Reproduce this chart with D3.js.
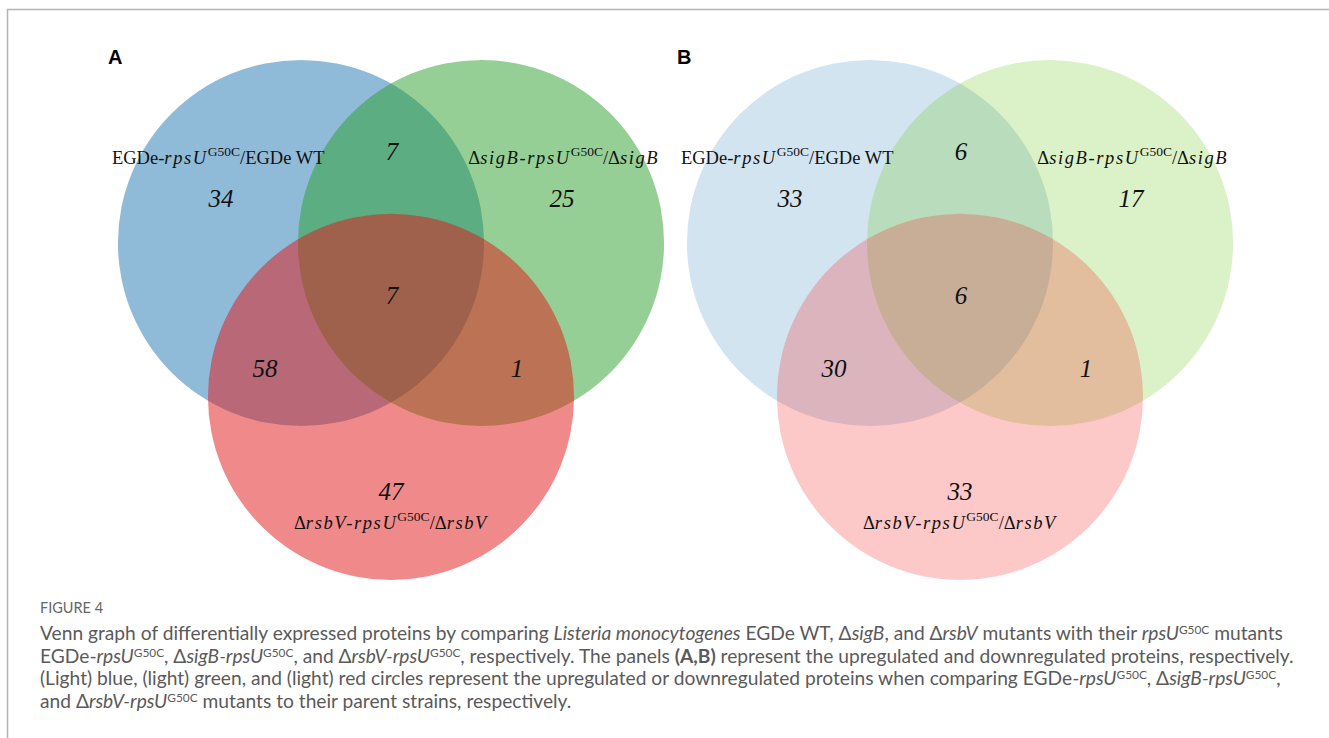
<!DOCTYPE html>
<html>
<head>
<meta charset="utf-8">
<script src="https://cdn.jsdelivr.net/npm/d3@7"></script>
<style>
  html, body { margin: 0; padding: 0; background: #fff; }
  svg { display: block; }
</style>
</head>
<body>
<svg id="fig" width="1329" height="738"></svg>
<script>
// ---- data ----
const panels = ["A", "B"];
// region order: onlyBlue, blue&green, onlyGreen, all three, blue&red, green&red, onlyRed
const regionKeys = ["100", "110", "010", "111", "101", "011", "001"];
const countsA = [34, 7, 25, 7, 58, 1, 47];
const countsB = [33, 6, 17, 6, 30, 1, 33];
// set labels: segments of [text, style]  (n = normal, i = italic, s = superscript)
const setLabels = [
  [["EGDe-", "n"], ["rpsU", "i"], ["G50C", "s"], ["/EGDe WT", "n"]],
  [["Δ", "n"], ["sigB-rpsU", "i"], ["G50C", "s"], ["/Δ", "n"], ["sigB", "i"]],
  [["Δ", "n"], ["rsbV-rpsU", "i"], ["G50C", "s"], ["/Δ", "n"], ["rsbV", "i"]]
];
const colorsA = ["rgb(31,119,180)", "rgb(44,160,44)", "rgb(225,21,21)"];
const colorsB = ["rgb(75,147,195)", "rgb(112,198,30)", "rgb(247,35,35)"];

// ---- layout (unit = distance between the two upper circle centres) ----
const circleUnits = [{x: 0, y: 0}, {x: 1, y: 0}, {x: 0.5, y: 0.855}];
const radiusUnit = 1.017;
const regionPos = {
  "100": [-0.445, -0.25], "110": [0.505, -0.51], "010": [1.45, -0.25],
  "111": [0.505, 0.29], "101": [-0.2, 0.695], "011": [1.2, 0.695], "001": [0.5, 1.378]
};
const labelPos = [[-0.46, -0.478], [1.46, -0.478], [0.5, 1.55]];

const svg = d3.select("#fig");
const unitPx = 180;

// frame
svg.append("path")
  .attr("d", "M7.5,738 L7.5,9.5 L1329,9.5")
  .attr("fill", "none").attr("stroke", "#b4b4b4").attr("stroke-width", 1.5);

function drawPanel(i, counts, colors, alpha, originX) {
  const x = d3.scaleLinear().domain([0, 1]).range([originX, originX + unitPx]);
  const y = d3.scaleLinear().domain([0, 1]).range([243, 243 + unitPx]);
  const g = svg.append("g");

  g.selectAll("circle").data(circleUnits).join("circle")
    .attr("cx", d => x(d.x)).attr("cy", d => y(d.y))
    .attr("r", x(radiusUnit) - x(0))
    .attr("fill", (d, k) => colors[k]).attr("fill-opacity", alpha);

  // counts
  g.selectAll("text.count").data(regionKeys.map((k, j) => ({k, v: counts[j]}))).join("text")
    .attr("class", "count")
    .attr("x", d => x(regionPos[d.k][0]))
    .attr("y", d => y(regionPos[d.k][1]) + 9)
    .attr("text-anchor", "middle")
    .attr("font-family", "'Liberation Serif', 'Times New Roman', serif")
    .attr("font-style", "italic")
    .attr("font-size", 25)
    .attr("fill", "#111")
    .text(d => d.v);

  // set labels
  setLabels.forEach((segs, k) => {
    const t = g.append("text")
      .attr("x", x(labelPos[k][0])).attr("y", y(labelPos[k][1]) + 7)
      .attr("text-anchor", "middle")
      .attr("font-family", "'Liberation Serif', 'Times New Roman', serif")
      .attr("font-size", 18.5).attr("fill", "#111");
    segs.forEach(([txt, st], j) => {
      const prev = j > 0 ? segs[j - 1][1] : "n";
      const sp = t.append("tspan").text(txt);
      if (st === "i") sp.attr("font-style", "italic").attr("letter-spacing", 1.6);
      if (st === "s") sp.attr("font-size", 13.5).attr("dy", -8);
      if (prev === "s") sp.attr("dy", 8);
    });
  });

  // panel letter
  svg.append("text")
    .attr("x", x(0) - 193).attr("y", 64)
    .attr("font-family", "'Liberation Sans', Arial, sans-serif")
    .attr("font-weight", "bold").attr("font-size", 20).attr("fill", "#000")
    .text(panels[i]);
}

drawPanel(0, countsA, colorsA, 0.5, 301);
drawPanel(1, countsB, colorsB, 0.25, 870);

// ---- caption ----
const captionTitle = "FIGURE 4";
const captionLines = [
  [["Venn graph of differentially expressed proteins by comparing ", "n"], ["Listeria monocytogenes", "i"],
   [" EGDe WT, Δ", "n"], ["sigB", "i"], [", and Δ", "n"], ["rsbV", "i"], [" mutants with their ", "n"],
   ["rpsU", "i"], ["G50C", "s"], [" mutants", "n"]],
  [["EGDe-", "n"], ["rpsU", "i"], ["G50C", "s"], [", Δ", "n"], ["sigB-rpsU", "i"], ["G50C", "s"],
   [", and Δ", "n"], ["rsbV-rpsU", "i"], ["G50C", "s"], [", respectively. The panels ", "n"],
   ["(A,B)", "b"], [" represent the upregulated and downregulated proteins, respectively.", "n"]],
  [["(Light) blue, (light) green, and (light) red circles represent the upregulated or downregulated proteins when comparing EGDe-", "n"],
   ["rpsU", "i"], ["G50C", "s"], [", Δ", "n"], ["sigB-rpsU", "i"], ["G50C", "s"], [",", "n"]],
  [["and Δ", "n"], ["rsbV-rpsU", "i"], ["G50C", "s"], [" mutants to their parent strains, respectively.", "n"]]
];
const capFont = "Lato, 'Open Sans', sans-serif";

svg.append("text")
  .attr("x", 40).attr("y", 613)
  .attr("font-family", capFont).attr("font-size", 14.5).attr("fill", "#666")
  .text(captionTitle);

const capLines = captionLines.map((segs, k) => {
  const t = svg.append("text")
    .attr("x", 40).attr("y", 640 + k * 22.7)
    .attr("font-family", capFont).attr("font-size", 16).attr("fill", "#5a5a5a");
  segs.forEach(([txt, st], j) => {
    const prev = j > 0 ? segs[j - 1][1] : "n";
    const sp = t.append("tspan").text(txt);
    if (st === "i") sp.attr("font-style", "italic");
    if (st === "b") sp.attr("font-weight", "bold");
    if (st === "s") sp.attr("font-size", "0.62em").attr("dy", -6);
    if (prev === "s") sp.attr("dy", 6);
  });
  return t;
});
// size caption so the second line spans the text block width
const w = capLines[1].node().getComputedTextLength();
const fs = 16 * 1254 / w;
capLines.forEach(t => t.attr("font-size", fs));
</script>
</body>
</html>
